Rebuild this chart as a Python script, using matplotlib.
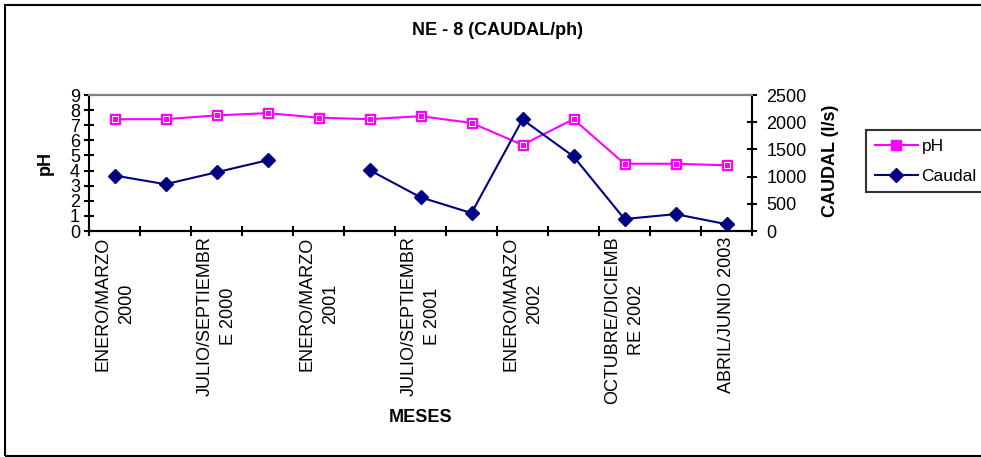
import numpy as np
import matplotlib.pyplot as plt
from matplotlib.patches import Rectangle

plt.rcParams['font.family'] = ['Liberation Sans', 'DejaVu Sans']

# quarterly samples, NE-8 station
periodos = ['ENERO/MARZO\n2000', 'ABRIL/JUNIO\n2000', 'JULIO/SEPTIEMBR\nE 2000',
            'OCTUBRE/DICIEMB\nRE 2000', 'ENERO/MARZO\n2001', 'ABRIL/JUNIO\n2001',
            'JULIO/SEPTIEMBR\nE 2001', 'OCTUBRE/DICIEMB\nRE 2001', 'ENERO/MARZO\n2002',
            'ABRIL/JUNIO\n2002', 'OCTUBRE/DICIEMB\nRE 2002', 'ENERO/MARZO\n2003',
            'ABRIL/JUNIO 2003']
ph = [7.4, 7.4, 7.65, 7.8, 7.5, 7.4, 7.6, 7.15, 5.7, 7.4, 4.45, 4.45, 4.35]
caudal = [1020, 860, 1080, 1300, np.nan, 1120, 620, 330, 2050, 1370, 220, 310, 125]

ph_ticks = list(range(0, 10))
caudal_ticks = [0, 500, 1000, 1500, 2000, 2500]

W, H = 981, 457
fig = plt.figure(figsize=(W / 100, H / 100), dpi=100)
fig.patch.set_facecolor('white')

# plot area in pixels: x 89..752, y 95..231
ax = fig.add_axes([89 / W, 1 - 231 / H, (752 - 89) / W, (231 - 95) / H])
ax2 = ax.twinx()

x = np.arange(len(periodos))

l_ph, = ax.plot(x, ph, color='#FF00FF', lw=1.5, marker='s', ms=7,
                mfc='#FF00FF', mec='#FF00FF', label='pH', zorder=3)
ax.plot(x, ph, ls='none', marker='s', ms=4, mfc='none', mec='white', mew=0.7, zorder=4)
l_q, = ax2.plot(x, caudal, color='#000080', lw=1.5, marker='D', ms=7.5,
                mfc='#000080', mec='#000080', label='Caudal', zorder=3)

ax.set_xlim(-0.5, len(periodos) - 0.5)
ax.set_ylim(0, 9)
ax2.set_ylim(0, 2500)
ax.set_yticks(ph_ticks)
ax2.set_yticks(caudal_ticks)

# category boundaries as major ticks, labels on every other category
ax.set_xticks(np.arange(-0.5, len(periodos)), [''] * (len(periodos) + 1))
ax.set_xticks(x[::2], [periodos[i] for i in x[::2]], minor=True)
for t in ax.get_xticklabels(minor=True):
    t.set_rotation(90)
    t.set_va('top')
    t.set_ha('center')
    t.set_multialignment('center')
    t.set_linespacing(1.5)

tick_kw = dict(direction='inout', length=7, width=1.5, color='black',
               labelsize=13)
ax.tick_params(axis='x', which='major', pad=0, **tick_kw)
ax.tick_params(axis='x', which='minor', length=0, pad=4, labelsize=13)
ax.tick_params(axis='y', pad=3, **tick_kw)
ax2.tick_params(axis='y', pad=7, **tick_kw)

for a in (ax, ax2):
    for side in ('left', 'right', 'bottom'):
        a.spines[side].set_linewidth(1.5)
        a.spines[side].set_color('black')
    a.spines['top'].set_color('#808080')
    a.spines['top'].set_linewidth(1.5)
ax.spines['right'].set_visible(False)
ax2.spines['left'].set_visible(False)

ax.set_xlabel('MESES', fontsize=13, fontweight='bold')
ax.xaxis.set_label_coords(0.5, -1.375)
ax.xaxis.label.set_va('center')
ax.set_ylabel('pH', fontsize=13, fontweight='bold')
ax.yaxis.set_label_coords(-0.066, 0.5)
ax.yaxis.label.set_va('center')
ax2.set_ylabel('CAUDAL (l/s)', fontsize=13, fontweight='bold', rotation=90)
ax2.yaxis.set_label_coords(1.118, 0.518)
ax2.yaxis.label.set_va('center')

fig.text(498 / W, 1 - 30.5 / H, 'NE - 8 (CAUDAL/ph)', ha='center', va='center',
         fontsize=13, fontweight='bold')

leg = fig.legend([l_ph, l_q], ['pH', 'Caudal'], loc='upper left',
                 bbox_to_anchor=(866 / W, 1 - 130 / H), fontsize=12.5,
                 frameon=True, fancybox=False, borderpad=0.5,
                 handlelength=2.5, handletextpad=0.2, labelspacing=0.85,
                 borderaxespad=0)
leg.get_frame().set_edgecolor('black')
leg.get_frame().set_linewidth(1.5)

# outer chart border
fig.patches.append(Rectangle((5 / W, 1 / H), 1.2, 1 - 6 / H, transform=fig.transFigure,
                             fill=False, edgecolor='black', lw=1.5))

fig.savefig('out.png', dpi=100)
